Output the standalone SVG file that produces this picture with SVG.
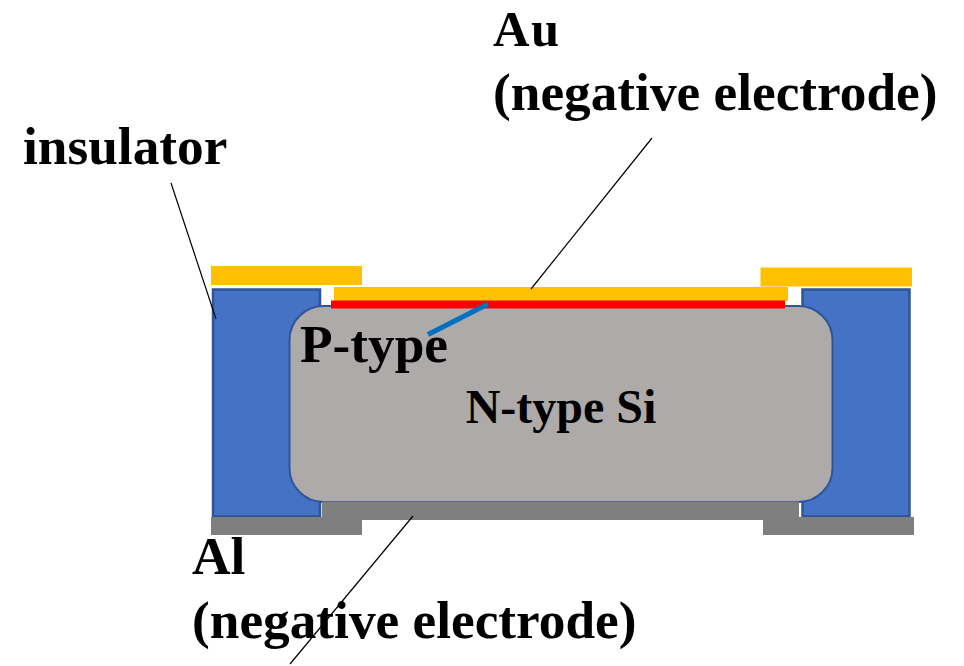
<svg xmlns="http://www.w3.org/2000/svg" width="964" height="666" viewBox="0 0 964 666">
<style>
.t{font-family:"Liberation Serif","Times New Roman",serif;font-weight:bold;fill:#000}
.au{fill:#ffc000}
.al{fill:#7f7f7f}
.ins{fill:#4472c4;stroke:#2f5597;stroke-width:2.5}
.lead{fill:none;stroke:#000;stroke-width:1.2}
</style>
<rect width="964" height="666" fill="#fff"/>
<g id="insulator-left"><rect class="ins" x="213" y="289.500" width="107" height="227"/></g>
<g id="insulator-right"><rect class="ins" x="802.500" y="289.500" width="107" height="227"/></g>
<g id="si-body"><rect x="289.500" y="306" width="543" height="196" rx="34" ry="34" fill="#aeaaaa" stroke="#2f5597" stroke-width="2"/>
<text class="t" x="561" y="423" font-size="48" text-anchor="middle">N-type Si</text></g>
<g id="al-contact">
<rect class="al" x="322" y="501.500" width="477" height="18.500"/>
<rect class="al" x="211" y="517" width="151" height="18"/>
<rect class="al" x="763" y="517" width="151" height="18"/>
</g>
<g id="au-contact">
<rect class="au" x="211" y="266" width="151" height="19"/>
<rect class="au" x="334" y="287" width="454" height="14"/>
<rect class="au" x="760.500" y="267.500" width="151.500" height="19"/>
</g>
<g id="p-layer"><rect x="331" y="300.500" width="454" height="8" fill="#ff0000"/>
<text class="t" x="300" y="362" font-size="53.300">P-type</text></g>
<g id="labels">
<text class="t" x="493" y="45.500" font-size="50.500" letter-spacing="1.500">Au</text>
<text class="t" x="493" y="109.500" font-size="53.300">(negative electrode)</text>
<text class="t" x="23" y="163.500" font-size="53.300">insulator</text>
<text class="t" x="192" y="574" font-size="53.300">Al</text>
<text class="t" x="192" y="638" font-size="53.300">(negative electrode)</text>
</g>
<g id="connectors">
<line class="lead" x1="171" y1="183" x2="216" y2="319"/>
<line class="lead" x1="652" y1="138" x2="531" y2="289"/>
<line class="lead" x1="413" y1="516" x2="290" y2="664"/>
<line x1="488" y1="304" x2="428" y2="334.500" stroke="#0070c0" stroke-width="5"/>
</g>
</svg>
